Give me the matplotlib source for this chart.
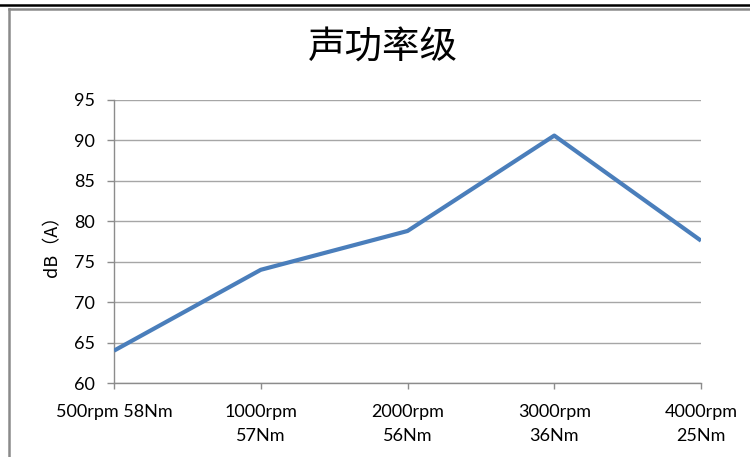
import matplotlib.pyplot as plt
from matplotlib.lines import Line2D

# operating points and measured sound power level
speeds = ['500rpm 58Nm', '1000rpm\n57Nm', '2000rpm\n56Nm', '3000rpm\n36Nm', '4000rpm\n25Nm']
level_db = [64.0, 74.0, 78.8, 90.6, 77.6]
yticks = [60, 65, 70, 75, 80, 85, 90, 95]

fig = plt.figure(figsize=(7.5, 4.57), dpi=100)
ax = fig.add_axes([0.152, 0.1619, 0.7827, 0.6193])

x = list(range(len(speeds)))
ax.plot(x, level_db, color='#4a7ebb', lw=3.0, solid_capstyle='butt', zorder=3)

ax.set_xlim(0, len(speeds) - 1)
ax.set_ylim(60, 95)
ax.set_yticks(yticks)
ax.set_xticks(x)
ax.set_xticklabels(speeds, linespacing=1.6, va='top')
ax.grid(axis='y', color='#a6a6a6', lw=1)
ax.set_axisbelow(True)

for s in ['top', 'right']:
    ax.spines[s].set_visible(False)
for s in ['left', 'bottom']:
    ax.spines[s].set_color('#8c8c8c')
    ax.spines[s].set_linewidth(1)

ax.tick_params(axis='y', direction='out', length=5, width=1, color='#8c8c8c',
               labelsize=13, pad=9)
ax.tick_params(axis='x', direction='out', length=4, width=1, color='#8c8c8c',
               labelsize=13, pad=11)
for lab in ax.get_xticklabels() + ax.get_yticklabels():
    lab.set_fontfamily(['Lato', 'DejaVu Sans'])

ax.set_ylabel('dB（A）', family=['Noto Sans CJK SC', 'DejaVu Sans'], fontsize=13, labelpad=9)
fig.text(0.511, 0.895, '声功率级', family=['Noto Sans CJK SC', 'DejaVu Sans'],
         fontsize=27, ha='center', va='center')

# frame lines around the chart area
fig.add_artist(Line2D([0, 1], [1 - 5 / 457, 1 - 5 / 457], color='black', lw=1.8))
fig.add_artist(Line2D([8.5 / 750, 1], [1 - 8.5 / 457, 1 - 8.5 / 457], color='#8a8a8a', lw=1.8))
fig.add_artist(Line2D([8.5 / 750, 8.5 / 750], [0, 1 - 8.5 / 457], color='#8a8a8a', lw=1.8))

fig.savefig('out.png', dpi=100)
